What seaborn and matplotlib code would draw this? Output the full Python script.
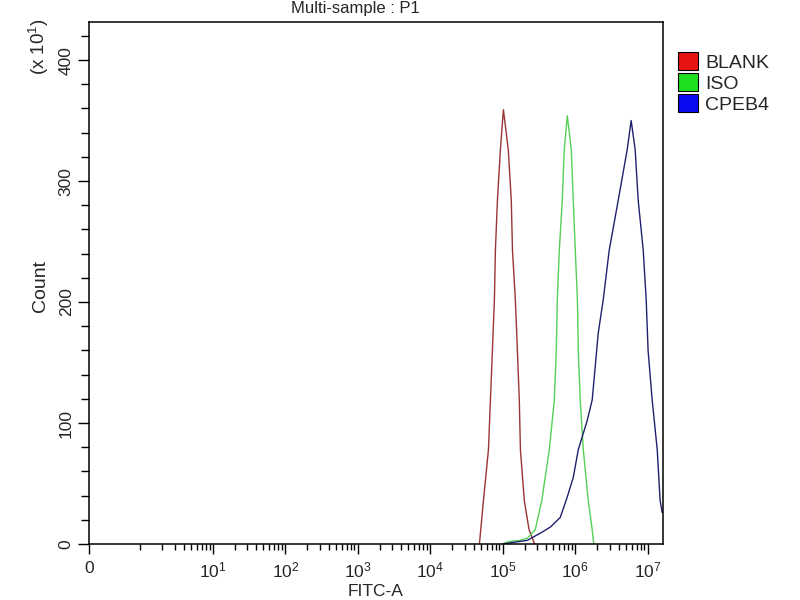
import numpy as np
import pandas as pd
import seaborn as sns
import matplotlib
matplotlib.use("Agg")
from matplotlib import pyplot as plt
from matplotlib.patches import Patch

# FITC-A intensity vs count (count in units of 10)
blank_x = [4.76e4, 5.41e4, 6.34e4, 6.75e4, 7.19e4, 7.66e4, 7.91e4, 8.43e4, 9.27e4, 1.02e5,
           1.19e5, 1.31e5, 1.36e5, 1.49e5, 1.59e5, 1.69e5, 1.75e5, 1.98e5, 2.3e5, 2.75e5]
blank_y = [0, 36, 78, 119, 160, 202, 243, 284, 326, 359,
           326, 284, 243, 202, 160, 119, 78, 36, 12, 0]

iso_x = [9.9e4, 1.2e5, 1.75e5, 2.2e5, 2.81e5, 3.45e5, 4.38e5, 5.14e5, 5.47e5, 5.65e5, 6.02e5,
         6.62e5, 7.05e5, 7.76e5, 8.81e5, 9.38e5, 1.0e6, 1.07e6, 1.10e6, 1.17e6, 1.29e6,
         1.51e6, 1.71e6, 1.8e6]
iso_y = [0, 2, 3, 5, 12, 36, 78, 119, 160, 202, 243,
         284, 326, 354, 326, 284, 243, 202, 160, 119, 78,
         36, 12, 0]

cpeb4_x = [1.0e5, 1.27e5, 2.18e5, 3.30e5, 4.53e5, 6.21e5, 7.76e5, 9.38e5, 1.10e6, 1.46e6,
           1.71e6, 1.88e6, 2.07e6, 2.43e6, 2.94e6, 3.91e6, 5.20e6, 5.90e6, 6.70e6, 7.38e6,
           8.65e6, 9.51e6, 1.01e7, 1.15e7, 1.35e7, 1.48e7, 1.58e7]
cpeb4_y = [0, 1, 3, 9, 14, 22, 39, 55, 78, 102,
           119, 146, 174, 202, 243, 284, 326, 350, 326, 284,
           243, 202, 160, 119, 78, 36, 26]

samples = ["BLANK", "ISO", "CPEB4"]
line_colors = ["#9b3535", "#55d055", "#20206e"]
legend_colors = ["#e81414", "#1ee01e", "#0a0af0"]

df = pd.concat([
    pd.DataFrame({"FITC-A": blank_x, "Count": blank_y, "sample": "BLANK"}),
    pd.DataFrame({"FITC-A": iso_x, "Count": iso_y, "sample": "ISO"}),
    pd.DataFrame({"FITC-A": cpeb4_x, "Count": cpeb4_y, "sample": "CPEB4"}),
])

sns.set_theme(style="white")
plt.rcParams["font.family"] = ["Liberation Sans", "DejaVu Sans"]
plt.rcParams["mathtext.fontset"] = "custom"
plt.rcParams["mathtext.rm"] = "Liberation Sans"
plt.rcParams["mathtext.it"] = "Liberation Sans"

fig = plt.figure(figsize=(8, 6), dpi=100)
ax = fig.add_axes([89 / 800, 56 / 600, 574 / 800, 522 / 600])

sns.lineplot(data=df, x="FITC-A", y="Count", hue="sample", hue_order=samples,
             palette=line_colors, estimator=None, sort=False, linewidth=1.0,
             legend=False, ax=ax)

# flow-cytometry style axis: linear stretch from 0 to 1, log above
K = 0.708
def fwd(x):
    x = np.asarray(x, dtype=float)
    return np.where(x >= 1, np.log10(np.maximum(x, 1e-12)), (x - 1) * K)

def inv(y):
    y = np.asarray(y, dtype=float)
    return np.where(y >= 0, 10 ** np.minimum(y, 300), 1 + y / K)

ax.set_xscale("function", functions=(fwd, inv))
ax.set_xlim(0, 10 ** 7.21)
ax.set_ylim(0, 431.5)

major = [0] + [10 ** k for k in range(1, 8)]
ax.set_xticks(major)
ax.set_xticklabels(["0"] + [r"$10^{%d}$" % k for k in range(1, 8)], fontsize=12.5)
minor = [1, 2, 3, 4, 5, 6, 7, 8, 9] + [m * 10 ** k for k in range(1, 7) for m in range(2, 10)]
ax.set_xticks(minor, minor=True)

ax.set_yticks([0, 100, 200, 300, 400])
ax.set_yticks(np.arange(20, 431, 20), minor=True)
ax.set_yticklabels(["0", "100", "200", "300", "400"], fontsize=12.5, rotation=90, va="center")

ax.tick_params(axis="x", which="major", direction="out", length=7, width=1, color="black",
               bottom=True, pad=5)
ax.tick_params(axis="x", which="minor", direction="out", length=4, width=1, color="black",
               bottom=True)
ax.tick_params(axis="y", which="major", direction="out", length=8, width=1, color="black",
               left=True, pad=3)
ax.tick_params(axis="y", which="minor", direction="out", length=6, width=1, color="black",
               left=True)
ax.set_xlabel("")
ax.set_ylabel("")
for s in ax.spines.values():
    s.set_color("black")
    s.set_linewidth(1.1)

fig.text(355 / 800, 1 - 9 / 600, "Multi-sample : P1", ha="center", va="center", fontsize=12)
fig.text(376 / 800, 1 - 592 / 600, "FITC-A", ha="center", va="center", fontsize=12.5)
fig.text(40 / 800, 1 - 286 / 600, "Count", ha="center", va="center", rotation=90, fontsize=14)
fig.text(39 / 800, 1 - 47 / 600, r"(x 10$^{1}$)", ha="center", va="center", rotation=90,
         fontsize=13.5)

handles = [Patch(facecolor=c, edgecolor="black", linewidth=0.8) for c in legend_colors]
fig.legend(handles, samples, loc="upper left", bbox_to_anchor=(678 / 800, 1 - 52 / 600),
           bbox_transform=fig.transFigure, frameon=False, fontsize=14, borderpad=0,
           handlelength=1.03, handleheight=1.03, handletextpad=0.36, labelspacing=0.08,
           borderaxespad=0)

fig.savefig("out.png", dpi=100)
